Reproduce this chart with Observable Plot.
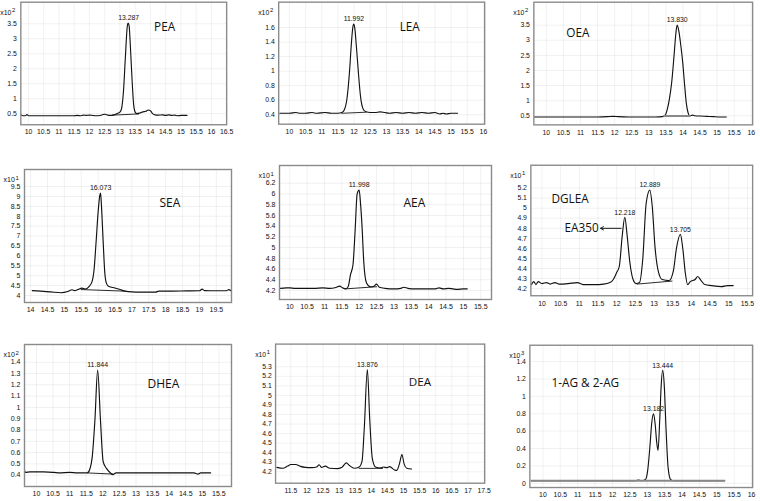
<!DOCTYPE html>
<html>
<head>
<meta charset="utf-8">
<script src="https://cdn.jsdelivr.net/npm/d3@7"></script>
<script src="https://cdn.jsdelivr.net/npm/@observablehq/plot@0.6"></script>
<style>
  html, body { margin: 0; padding: 0; background: #fff; }
  #chart { position: relative; width: 760px; height: 501px; overflow: hidden; background: #fff; }
  .panel { position: absolute; overflow: hidden; }
  .panel svg { display: block; }
</style>
</head>
<body>
<div id="chart"></div>
<script>
// ---------- DATA (retention time in min, abundance in units of the panel's exponent) ----------
const names = ["PEA", "LEA", "OEA", "SEA", "AEA", "DGLEA", "DHEA", "DEA", "1-AG & 2-AG"];
const exponents = ["2", "2", "2", "1", "1", "1", "2", "1", "3"];

const peaXTicks = [10, 10.5, 11, 11.5, 12, 12.5, 13, 13.5, 14, 14.5, 15, 15.5, 16, 16.5];
const peaYTicks = [0.5, 1, 1.5, 2, 2.5, 3, 3.5];
const peaTrace = [[9.76,0.46],[9.82,0.43],[9.9,0.43],[9.95,0.47],[10.0,0.43],[10.2,0.43],[10.5,0.43],[11.0,0.43],[11.5,0.43],[11.6,0.44],[11.7,0.43],[11.8,0.45],[11.9,0.44],[12.0,0.45],[12.1,0.44],[12.2,0.43],[12.35,0.44],[12.45,0.47],[12.52,0.48],[12.6,0.45],[12.7,0.44],[12.8,0.46],[12.9,0.5],[13.0,0.55],[13.05,0.65],[13.12,1.3],[13.18,2.4],[13.24,3.4],[13.27,3.52],[13.3,3.45],[13.35,2.6],[13.4,1.6],[13.45,0.8],[13.5,0.55],[13.56,0.5],[13.65,0.52],[13.75,0.56],[13.85,0.58],[13.93,0.62],[14.0,0.6],[14.07,0.5],[14.15,0.46],[14.25,0.45],[14.4,0.46],[14.5,0.44],[14.6,0.46],[14.7,0.44],[14.8,0.45],[14.9,0.43],[15.0,0.44],[15.2,0.44]];
const peaBase = [[12.76,0.45],[13.61,0.49]];
const peaPeaks = [[13.287,3.52]];

const leaXTicks = [10, 10.5, 11, 11.5, 12, 12.5, 13, 13.5, 14, 14.5, 15, 15.5, 16];
const leaYTicks = [0.4, 0.6, 0.8, 1, 1.2, 1.4, 1.6];
const leaTrace = [[9.7,0.42],[9.85,0.42],[10.0,0.42],[10.2,0.43],[10.35,0.42],[10.5,0.42],[10.7,0.43],[10.85,0.42],[11.1,0.43],[11.3,0.42],[11.5,0.42],[11.62,0.43],[11.7,0.47],[11.78,0.62],[11.86,1.0],[11.92,1.4],[11.96,1.6],[11.99,1.65],[12.02,1.6],[12.07,1.35],[12.13,1.0],[12.2,0.65],[12.28,0.48],[12.37,0.44],[12.5,0.43],[12.65,0.43],[12.8,0.44],[12.95,0.43],[13.1,0.42],[13.3,0.43],[13.5,0.42],[13.7,0.43],[13.9,0.42],[14.1,0.43],[14.3,0.42],[14.5,0.43],[14.65,0.41],[14.75,0.42],[14.85,0.41],[15.0,0.42],[15.2,0.42]];
const leaBase = [[11.62,0.42],[12.37,0.435]];
const leaPeaks = [[11.992,1.65]];

const oeaXTicks = [10, 10.5, 11, 11.5, 12, 12.5, 13, 13.5, 14, 14.5, 15, 15.5, 16];
const oeaYTicks = [0.5, 1, 1.5, 2, 2.5, 3, 3.5];
const oeaTrace = [[9.65,0.46],[10.0,0.46],[10.5,0.46],[11.0,0.46],[11.5,0.46],[11.8,0.47],[11.95,0.48],[12.1,0.47],[12.4,0.46],[12.8,0.46],[13.2,0.46],[13.4,0.47],[13.48,0.52],[13.55,0.75],[13.61,1.1],[13.67,1.6],[13.74,2.5],[13.79,3.2],[13.83,3.5],[13.88,3.3],[13.94,2.8],[13.99,2.3],[14.05,1.5],[14.1,0.9],[14.15,0.6],[14.2,0.5],[14.28,0.52],[14.35,0.5],[14.5,0.49],[14.7,0.48],[14.9,0.47],[15.05,0.46],[15.27,0.46]];
const oeaBase = [[13.45,0.49],[14.2,0.49]];
const oeaPeaks = [[13.830,3.5]];

const seaXTicks = [14, 14.5, 15, 15.5, 16, 16.5, 17, 17.5, 18, 18.5, 19, 19.5];
const seaYTicks = [4, 4.5, 5, 5.5, 6, 6.5, 7, 7.5, 8, 8.5, 9, 9.5];
const seaTrace = [[14.05,4.25],[14.3,4.22],[14.6,4.18],[14.9,4.14],[15.1,4.2],[15.23,4.29],[15.3,4.25],[15.4,4.3],[15.52,4.37],[15.62,4.33],[15.73,4.45],[15.82,4.7],[15.88,5.3],[15.94,6.7],[16.0,8.2],[16.05,9.05],[16.073,9.17],[16.1,8.5],[16.15,6.7],[16.2,5.1],[16.25,4.6],[16.32,4.45],[16.5,4.38],[16.65,4.3],[16.8,4.22],[17.0,4.18],[17.25,4.17],[17.5,4.17],[17.7,4.17],[17.8,4.22],[18.2,4.22],[18.6,4.23],[19.0,4.24],[19.08,4.32],[19.15,4.25],[19.5,4.24],[19.8,4.24],[19.87,4.3],[19.93,4.24]];
const seaBase = [[15.5,4.3],[16.8,4.22]];
const seaPeaks = [[16.073,9.17]];

const aeaXTicks = [10, 10.5, 11, 11.5, 12, 12.5, 13, 13.5, 14, 14.5, 15, 15.5];
const aeaYTicks = [4.2, 4.4, 4.6, 4.8, 5, 5.2, 5.4, 5.6, 5.8, 6, 6.2];
const aeaTrace = [[9.73,4.24],[9.9,4.25],[10.0,4.25],[10.15,4.24],[10.4,4.24],[10.7,4.24],[10.95,4.25],[11.15,4.24],[11.3,4.25],[11.44,4.28],[11.52,4.25],[11.6,4.23],[11.68,4.27],[11.75,4.5],[11.82,4.68],[11.88,5.3],[11.94,6.0],[11.998,6.07],[12.04,5.8],[12.08,5.4],[12.13,4.74],[12.21,4.34],[12.32,4.27],[12.42,4.28],[12.5,4.32],[12.58,4.26],[12.74,4.24],[13.0,4.23],[13.2,4.24],[13.28,4.26],[13.4,4.24],[13.6,4.23],[13.9,4.23],[14.2,4.23],[14.3,4.25],[14.42,4.23],[14.57,4.24],[14.7,4.23],[14.82,4.22],[15.0,4.23],[15.11,4.23]];
const aeaBase = [[11.6,4.23],[12.5,4.27]];
const aeaPeaks = [[11.998,6.07]];

const dgleaXTicks = [10, 10.5, 11, 11.5, 12, 12.5, 13, 13.5, 14, 14.5, 15, 15.5];
const dgleaYTicks = [4.2, 4.3, 4.4, 4.5, 4.6, 4.7, 4.8, 4.9, 5, 5.1, 5.2];
const dgleaTrace = [[9.72,4.24],[9.78,4.27],[9.84,4.24],[9.9,4.27],[10.0,4.25],[10.12,4.26],[10.22,4.245],[10.35,4.26],[10.45,4.245],[10.7,4.25],[10.95,4.26],[11.1,4.24],[11.4,4.24],[11.65,4.245],[11.82,4.26],[11.91,4.29],[12.0,4.36],[12.07,4.42],[12.15,4.73],[12.218,4.91],[12.28,4.73],[12.35,4.47],[12.44,4.29],[12.52,4.25],[12.61,4.26],[12.7,4.5],[12.79,5.05],[12.889,5.18],[12.95,5.03],[13.03,4.6],[13.11,4.38],[13.22,4.29],[13.4,4.28],[13.52,4.38],[13.6,4.6],[13.705,4.74],[13.77,4.6],[13.84,4.35],[13.9,4.24],[13.97,4.27],[14.1,4.29],[14.17,4.32],[14.26,4.28],[14.36,4.24],[14.54,4.23],[14.8,4.22],[14.97,4.23],[15.12,4.23]];
const dgleaBase = [[12.55,4.245],[13.48,4.275]];
const dgleaPeaks = [[12.218,4.91],[12.889,5.18],[13.705,4.74]];
const ea350Label = ["EA350"];
const ea350Arrow = [[12.12, 11.57, 4.8]];

const dheaXTicks = [10, 10.5, 11, 11.5, 12, 12.5, 13, 13.5, 14, 14.5, 15, 15.5];
const dheaYTicks = [0.4, 0.5, 0.6, 0.7, 0.8, 0.9, 1, 1.1, 1.2, 1.3, 1.4];
const dheaTrace = [[9.64,0.44],[9.67,0.425],[9.8,0.43],[10.0,0.43],[10.22,0.43],[10.52,0.425],[10.7,0.42],[11.0,0.425],[11.23,0.42],[11.53,0.42],[11.61,0.455],[11.68,0.56],[11.76,0.88],[11.844,1.33],[11.93,0.88],[12.01,0.52],[12.11,0.46],[12.23,0.42],[12.3,0.405],[12.4,0.42],[12.94,0.42],[13.5,0.42],[13.94,0.42],[14.4,0.42],[14.75,0.42],[14.87,0.41],[14.95,0.42],[15.25,0.42]];
const dheaBase = [[11.55,0.42],[12.3,0.41]];
const dheaPeaks = [[11.844,1.33]];

const deaXTicks = [11.5, 12, 12.5, 13, 13.5, 14, 14.5, 15, 15.5, 16, 16.5, 17, 17.5];
const deaYTicks = [4.2, 4.3, 4.4, 4.5, 4.6, 4.7, 4.8, 4.9, 5, 5.1, 5.2, 5.3];
const deaTrace = [[11.065,4.247],[11.25,4.237],[11.4,4.26],[11.5,4.277],[11.65,4.277],[11.8,4.257],[11.95,4.247],[12.15,4.244],[12.3,4.25],[12.38,4.274],[12.45,4.247],[12.57,4.26],[12.71,4.237],[12.96,4.234],[13.09,4.247],[13.22,4.294],[13.32,4.267],[13.47,4.237],[13.62,4.25],[13.71,4.31],[13.78,4.65],[13.876,5.27],[13.95,4.75],[14.03,4.34],[14.13,4.25],[14.27,4.24],[14.38,4.25],[14.47,4.244],[14.57,4.254],[14.72,4.22],[14.79,4.215],[14.87,4.28],[14.95,4.38],[15.02,4.28],[15.1,4.237],[15.25,4.23]];
const deaBase = [[13.62,4.236],[14.35,4.236]];
const deaPeaks = [[13.876,5.27]];

const agXTicks = [10, 10.5, 11, 11.5, 12, 12.5, 13, 13.5, 14, 14.5, 15, 15.5, 16];
const agYTicks = [0, 0.2, 0.4, 0.6, 0.8, 1, 1.2, 1.4];
const agTrace = [[9.67,0.03],[12.68,0.03],[12.75,0.038],[12.82,0.03],[12.95,0.045],[13.01,0.14],[13.08,0.44],[13.13,0.7],[13.182,0.8],[13.23,0.67],[13.27,0.48],[13.31,0.38],[13.36,0.74],[13.4,1.12],[13.444,1.3],[13.49,1.12],[13.54,0.63],[13.6,0.18],[13.67,0.045],[13.76,0.03],[15.22,0.03]];
const agBase = [[9.67,0.03],[15.22,0.03]];
const agPeaks = [[13.182,0.8],[13.444,1.3]];

// ---------- LAYOUT ----------
const panels = [
  {i:0, frame:[21,2,231,127], clip:234, xd:[9.75,16.5], yd:[0.13,4.22], xt:peaXTicks, yt:peaYTicks, tr:peaTrace, base:peaBase, peaks:peaPeaks, nameAt:[136,21]},
  {i:1, frame:[279,2,490,127], clip:492, xd:[9.668,16.04], yd:[0.27,1.95], xt:leaXTicks, yt:leaYTicks, tr:leaTrace, base:leaBase, peaks:leaPeaks, nameAt:[124,21]},
  {i:2, frame:[534,2,757,127], clip:760, xd:[9.635,16.04], yd:[0.198,4.26], xt:oeaXTicks, yt:oeaYTicks, tr:oeaTrace, base:oeaBase, peaks:oeaPeaks, nameAt:[33,27], gray:true},
  {i:3, frame:[24,169,231,302], clip:240, xd:[13.82,19.95], yd:[3.647,10.36], xt:seaXTicks, yt:seaYTicks, tr:seaTrace, base:seaBase, peaks:seaPeaks, nameAt:[135,29]},
  {i:4, frame:[279,165,491,299], clip:500, xd:[9.703,15.81], yd:[4.032,6.53], xt:aeaXTicks, yt:aeaYTicks, tr:aeaTrace, base:aeaBase, peaks:aeaPeaks, nameAt:[124,33]},
  {i:5, frame:[531,165,757,298], clip:760, xd:[9.703,15.64], yd:[4.129,5.428], xt:dgleaXTicks, yt:dgleaYTicks, tr:dgleaTrace, base:dgleaBase, peaks:dgleaPeaks, nameAt:[21,30], ea:true},
  {i:6, frame:[24,344,231,486], clip:240, xd:[9.638,15.88], yd:[0.3,1.557], xt:dheaXTicks, yt:dheaYTicks, tr:dheaTrace, base:dheaBase, peaks:dheaPeaks, nameAt:[123,35]},
  {i:7, frame:[276,344,491,487], clip:492, xd:[11.026,17.52], yd:[4.081,5.537], xt:deaXTicks, yt:deaYTicks, tr:deaTrace, base:deaBase, peaks:deaPeaks, nameAt:[137,35]},
  {i:8, frame:[530,345,757,490], clip:760, xd:[9.625,16.03], yd:[-0.0485,1.588], xt:agXTicks, yt:agYTicks, tr:agTrace, base:agBase, peaks:agPeaks, nameAt:[22,34], gray:true}
];

const ML = 34, MR = 8, MT = 14, MB = 18;
const smallFont = "'Liberation Sans', Arial, sans-serif";
const nameFont = "'Open Sans', 'Liberation Sans', sans-serif";
const fmt = d => String(d);
const chart = document.getElementById("chart");

for (const p of panels) {
  const [x0, y0, x1, y1] = p.frame;
  const W = x1 - x0 + ML + MR, H = y1 - y0 + MT + MB;
  const marks = [
    Plot.gridX(p.xt, {stroke: "#000", strokeOpacity: 0.06}),
    Plot.gridY(p.yt, {stroke: "#000", strokeOpacity: 0.06}),
    Plot.axisX(p.xt, {tickSize: 0, tickPadding: 5, tickFormat: fmt, label: null, fontSize: 7}),
    Plot.axisY(p.yt, {tickSize: 0, tickPadding: 4, tickFormat: fmt, label: null, fontSize: 7}),
    Plot.line(p.tr, {x: d => d[0], y: d => d[1], curve: "monotone-x", stroke: "#111", strokeWidth: 1.15}),
    Plot.line(p.base, {x: d => d[0], y: d => d[1], stroke: p.gray ? "#888" : "#111", strokeWidth: p.gray ? 2 : 0.9}),
    Plot.frame({stroke: "#8a8a8a", strokeWidth: 1.4}),
    Plot.text(p.peaks, {x: d => d[0], y: d => d[1], text: d => d[0].toFixed(3), dy: -5, fontSize: 7, fill: "#111"}),
    Plot.text([names[p.i]], {frameAnchor: "top-left", dx: p.nameAt[0], dy: p.nameAt[1], textAnchor: "start", fontSize: 12, fontFamily: nameFont, fill: "#111"}),
    Plot.text(["x10"], {frameAnchor: "top-left", dx: -21, dy: 8, textAnchor: "start", fontSize: 7, fill: "#111"}),
    Plot.text([exponents[p.i]], {frameAnchor: "top-left", dx: -9, dy: 6, textAnchor: "start", fontSize: 6, fill: "#111"})
  ];
  if (p.ea) {
    marks.push(Plot.arrow(ea350Arrow, {x1: d => d[0], x2: d => d[1], y1: d => d[2], y2: d => d[2], stroke: "#111", strokeWidth: 1, headLength: 5}));
    marks.push(Plot.text(ea350Arrow, {x: d => d[1], y: d => d[2], text: () => ea350Label[0], textAnchor: "end", dx: -2, fontSize: 12, fontFamily: nameFont, fill: "#111"}));
  }
  const svg = Plot.plot({
    width: W, height: H,
    marginLeft: ML, marginRight: MR, marginTop: MT, marginBottom: MB,
    style: {fontFamily: smallFont, fontSize: "7px", background: "transparent", color: "#111", overflow: "visible"},
    x: {domain: p.xd},
    y: {domain: p.yd},
    marks
  });
  const div = document.createElement("div");
  div.className = "panel";
  div.style.left = (x0 - ML) + "px";
  div.style.top = (y0 - MT) + "px";
  div.style.width = (Math.min(p.clip, 760) - (x0 - ML)) + "px";
  div.style.height = H + "px";
  div.appendChild(svg);
  chart.appendChild(div);
}
</script>
</body>
</html>
